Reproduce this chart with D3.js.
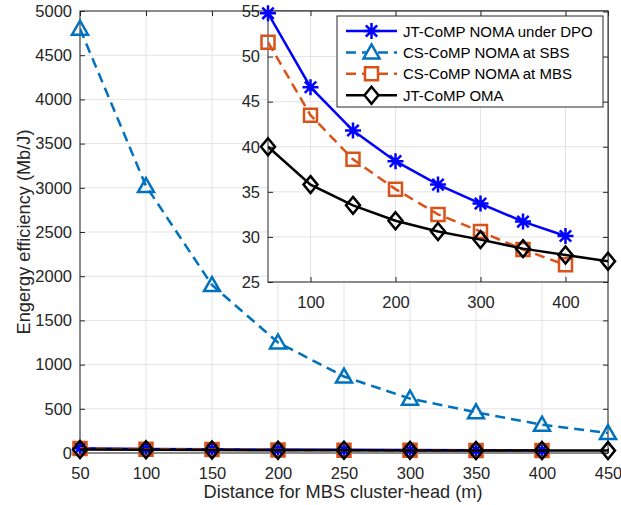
<!DOCTYPE html>
<html>
<head>
<meta charset="utf-8">
<script src="https://cdn.jsdelivr.net/npm/d3@7"></script>
<style>
  body { margin: 0; background: #fff; }
  svg { display: block; font-family: "Liberation Sans", Arial, sans-serif; }
</style>
</head>
<body>
<svg width="621" height="505"></svg>
<script>
// distances of the MBS cluster-head (m)
const distance = [50, 100, 150, 200, 250, 300, 350, 400, 450];

// energy efficiency (Mb/J)
const dpoNoma = [54.8, 46.6, 41.8, 38.4, 35.8, 33.7, 31.7, 30.1];
const csSbs = [4800, 3020, 1900, 1250, 865, 615, 460, 320, 225];
const csMbs = [51.6, 43.5, 38.6, 35.3, 32.5, 30.6, 28.6, 26.9];
const jtOma = [40.0, 35.8, 33.5, 31.8, 30.6, 29.7, 28.7, 28.0, 27.3];

const legendNames = ["JT-CoMP NOMA under DPO", "CS-CoMP NOMA at SBS", "CS-CoMP NOMA at MBS", "JT-CoMP OMA"];
const mainYTicks = d3.range(0, 5001, 500);
const mainXTicks = distance;
const insetXTicks = [100, 200, 300, 400];
const insetYTicks = [25, 30, 35, 40, 45, 50, 55];

const series = [
  { name: legendNames[0], values: dpoNoma, color: "#0000ff", dash: null, marker: "star" },
  { name: legendNames[1], values: csSbs, color: "#0072bd", dash: "10,6", marker: "triangle" },
  { name: legendNames[2], values: csMbs, color: "#d95319", dash: "10,6", marker: "square" },
  { name: legendNames[3], values: jtOma, color: "#000000", dash: null, marker: "diamond" }
];

const axisColor = "#262626";
const gridColor = "#e3e3e3";
const fmt = d3.format("d");
const svg = d3.select("svg");

// marker shapes, drawn as plain paths
function markerPath(type) {
  if (type === "star") {
    return "M-8,0L8,0M0,-8L0,8M-5.7,-5.7L5.7,5.7M-5.7,5.7L5.7,-5.7";
  }
  if (type === "triangle") return "M0,-8L8,6L-8,6Z";
  if (type === "square") return "M-6.5,-6.5L6.5,-6.5L6.5,6.5L-6.5,6.5Z";
  return "M0,-8.5L7,0L0,8.5L-7,0Z";
}

function drawAxes(g, x, y, xTicks, yTicks, w, h) {
  g.append("rect").attr("width", w).attr("height", h).attr("fill", "#fff");

  // grid
  g.append("g").selectAll("line").data(xTicks).join("line")
    .attr("x1", d => x(d)).attr("x2", d => x(d))
    .attr("y1", 0).attr("y2", h)
    .attr("stroke", gridColor);
  g.append("g").selectAll("line").data(yTicks).join("line")
    .attr("x1", 0).attr("x2", w)
    .attr("y1", d => y(d)).attr("y2", d => y(d))
    .attr("stroke", gridColor);
}

function drawFrame(g, x, y, xTicks, yTicks, w, h) {
  const style = sel => {
    sel.select(".domain").remove();
    sel.selectAll("line").attr("stroke", axisColor);
    sel.selectAll("text").attr("fill", axisColor).attr("font-size", 16.5)
      .attr("font-family", "Liberation Sans, Arial, sans-serif");
  };
  g.append("g").attr("transform", `translate(0,${h})`)
    .call(d3.axisBottom(x).tickValues(xTicks).tickFormat(fmt).tickSizeInner(-5).tickSizeOuter(0).tickPadding(14))
    .call(style);
  g.append("g")
    .call(d3.axisLeft(y).tickValues(yTicks).tickFormat(fmt).tickSizeInner(-5).tickSizeOuter(0).tickPadding(8))
    .call(style);
  g.append("g")
    .call(d3.axisTop(x).tickValues(xTicks).tickSizeInner(-5).tickSizeOuter(0).tickFormat(""))
    .call(style);
  g.append("g").attr("transform", `translate(${w},0)`)
    .call(d3.axisRight(y).tickValues(yTicks).tickSizeInner(-5).tickSizeOuter(0).tickFormat(""))
    .call(style);
  g.append("rect").attr("width", w).attr("height", h)
    .attr("fill", "none").attr("stroke", axisColor).attr("stroke-width", 1);
}

function drawSeries(g, x, y, clipId) {
  const [lo, hi] = y.domain();
  series.forEach(s => {
    const pts = s.values.map((v, i) => [distance[i], v]);
    const line = d3.line().x(d => x(d[0])).y(d => y(d[1]));
    g.append("path")
      .attr("d", line(pts))
      .attr("clip-path", `url(#${clipId})`)
      .attr("fill", "none")
      .attr("stroke", s.color)
      .attr("stroke-width", 2.5)
      .attr("stroke-dasharray", s.dash);
    g.append("g").selectAll("path")
      .data(pts.filter(d => d[1] >= lo && d[1] <= hi))
      .join("path")
      .attr("transform", d => `translate(${x(d[0])},${y(d[1])})`)
      .attr("d", markerPath(s.marker))
      .attr("fill", "none")
      .attr("stroke", s.color)
      .attr("stroke-width", 2.5);
  });
}

// ---------- main axes ----------
const main = { left: 80, top: 11, width: 528, height: 442 };
const x = d3.scaleLinear().domain([50, 450]).range([0, main.width]);
const y = d3.scaleLinear().domain([0, 5000]).range([main.height, 0]);

const defs = svg.append("defs");
defs.append("clipPath").attr("id", "clipMain")
  .append("rect").attr("width", main.width).attr("height", main.height);

const gMain = svg.append("g").attr("transform", `translate(${main.left},${main.top})`);
drawAxes(gMain, x, y, mainXTicks, mainYTicks, main.width, main.height);
drawFrame(gMain, x, y, mainXTicks, mainYTicks, main.width, main.height);
drawSeries(gMain, x, y, "clipMain");

svg.append("text")
  .attr("x", main.left + main.width / 2 - 1).attr("y", 498)
  .attr("text-anchor", "middle").attr("font-size", 18.2).attr("fill", axisColor)
  .text("Distance for MBS cluster-head (m)");

svg.append("text")
  .attr("transform", `translate(30,${main.top + main.height / 2}) rotate(-90)`)
  .attr("text-anchor", "middle").attr("font-size", 18.2).attr("fill", axisColor)
  .text("Engergy efficiency (Mb/J)");

// ---------- inset ----------
const inset = { left: 268, top: 11, width: 340, height: 271 };
const xi = d3.scaleLinear().domain([50, 450]).range([0, inset.width]);
const yi = d3.scaleLinear().domain([25, 55]).range([inset.height, 0.5]);

defs.append("clipPath").attr("id", "clipInset")
  .append("rect").attr("width", inset.width).attr("height", inset.height);

const gInset = svg.append("g").attr("transform", `translate(${inset.left},${inset.top})`);
drawAxes(gInset, xi, yi, insetXTicks, insetYTicks, inset.width, inset.height);
drawFrame(gInset, xi, yi, insetXTicks, insetYTicks, inset.width, inset.height);
drawSeries(gInset, xi, yi, "clipInset");

// ---------- legend ----------
const legend = svg.append("g").attr("transform", "translate(337,16)");
legend.append("rect").attr("width", 266).attr("height", 91)
  .attr("fill", "#fff").attr("stroke", axisColor).attr("stroke-width", 1);
const row = legend.selectAll("g.row").data(series).join("g")
  .attr("class", "row")
  .attr("transform", (d, i) => `translate(0,${15 + i * 21.4})`);
row.append("line")
  .attr("x1", 9).attr("x2", 60)
  .attr("stroke", d => d.color).attr("stroke-width", 2.5)
  .attr("stroke-dasharray", d => d.dash);
row.append("path")
  .attr("transform", "translate(34.5,0)")
  .attr("d", d => markerPath(d.marker))
  .attr("fill", d => d.marker === "star" ? "none" : "#fff")
  .attr("stroke", d => d.color).attr("stroke-width", 2.5);
row.append("text")
  .attr("x", 66).attr("y", 5.5)
  .attr("font-size", 15).attr("fill", "#000")
  .text(d => d.name);
</script>
</body>
</html>
